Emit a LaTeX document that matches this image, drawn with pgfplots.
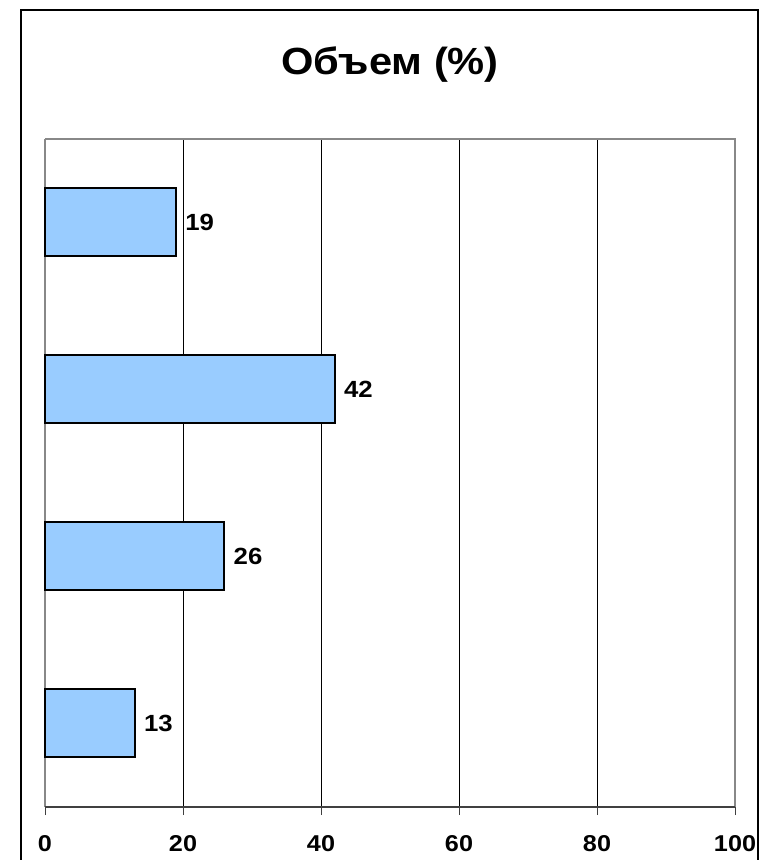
\documentclass[border=0pt]{standalone}
\usepackage{pgfplots}
\pgfplotsset{compat=1.18}
\usepackage{fontspec}
\setmainfont{Liberation Sans}[FakeStretch=1.1]
\definecolor{barfill}{HTML}{99CCFF}
\definecolor{axgray}{HTML}{888888}
\definecolor{axdark}{HTML}{404040}
\begin{document}
\begin{tikzpicture}[x=1bp,y=1bp]
\path[use as bounding box] (0,0) rectangle (760,860);
\clip (0,0) rectangle (760,860);
\fill[white] (0,0) rectangle (760,860);
\draw[black,line width=1.5bp] (21,-20) rectangle (758,850);
\node[font=\fontsize{38}{40}\selectfont\bfseries] at (390,795.5) {Объем (\%)};
\begin{axis}[
  at={(45bp,53bp)}, anchor=origin,
  scale only axis, width=690bp, height=668bp,
  xmin=0, xmax=100, ymin=0.5, ymax=4.5,
  xtick={0,20,40,60,80,100},
  ytick=\empty,
  xmajorgrids, grid style={black, line width=0.8bp},
  axis line style={draw=none},
  tick align=outside, xtick pos=bottom,
  major tick length=8bp,
  xtick style={axdark, line width=1bp},
  xticklabel style={font=\fontsize{23}{24}\selectfont\bfseries, yshift=-17bp},
  /pgf/number format/assume math mode=true,
  xbar, bar width=68bp,
  nodes near coords,
  nodes near coords style={font=\fontsize{23.5}{24}\selectfont\bfseries, anchor=west, xshift=5bp},
  clip=false,
]
\draw[axgray, line width=1.5bp] (rel axis cs:0,0) -- (rel axis cs:0,1);
\addplot[fill=barfill, draw=black, line width=2bp] coordinates {(19,4) (42,3) (26,2) (13,1)};
\draw[axgray, line width=2.2bp] (rel axis cs:0,1) -- (rel axis cs:1,1) -- (rel axis cs:1,0);
\draw[axdark, line width=2bp] (rel axis cs:0,0) -- (rel axis cs:1,0);
\end{axis}
\end{tikzpicture}
\end{document}
